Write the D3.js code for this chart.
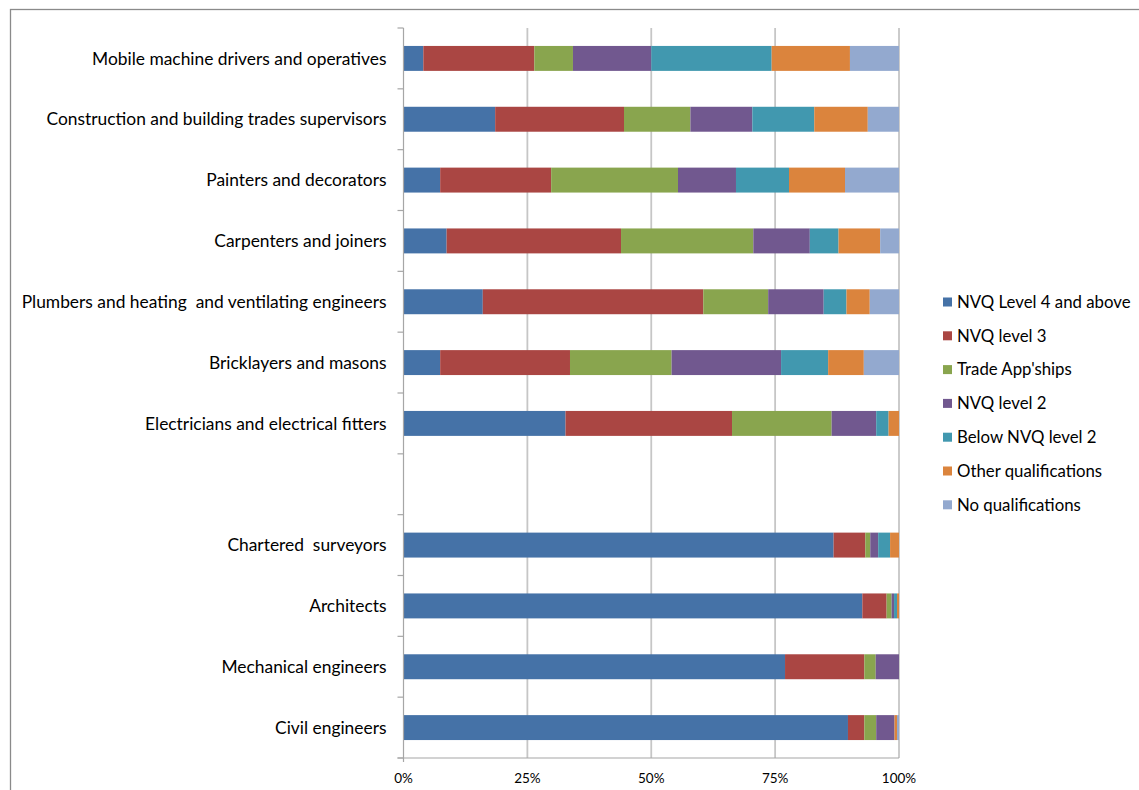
<!DOCTYPE html>
<html>
<head>
<meta charset="utf-8">
<script src="https://cdn.jsdelivr.net/npm/d3@7"></script>
<style>
html,body{margin:0;padding:0;background:#fff;}
svg{display:block;}
text{font-family:Lato,"Open Sans",sans-serif;fill:#000;white-space:pre;}
</style>
</head>
<body>
<svg id="chart" width="1139" height="790"></svg>
<script>
// Categories, top to bottom ("" = empty spacer row)
const categories = [
  "Mobile machine drivers and operatives",
  "Construction and building trades supervisors",
  "Painters and decorators",
  "Carpenters and joiners",
  "Plumbers and heating  and ventilating engineers",
  "Bricklayers and masons",
  "Electricians and electrical fitters",
  "",
  "Chartered  surveyors",
  "Architects",
  "Mechanical engineers",
  "Civil engineers"
];
const seriesNames = ["NVQ Level 4 and above","NVQ level 3","Trade App'ships","NVQ level 2","Below NVQ level 2","Other qualifications","No qualifications"];
const seriesColors = ["#4572A7","#AA4643","#89A54E","#71588F","#4198AF","#DB843D","#93A9CF"];

// Percent values per series, in category order above
const nvq4      = [4.0, 18.5, 7.4, 8.7, 16.0, 7.4, 32.7, 0, 86.8, 92.6, 77.0, 89.7];
const nvq3      = [22.4, 26.0, 22.4, 35.2, 44.5, 26.2, 33.6, 0, 6.4, 4.9, 16.0, 3.3];
const tradeApp  = [7.8, 13.4, 25.6, 26.7, 13.1, 20.5, 20.1, 0, 1.0, 1.0, 2.3, 2.4];
const nvq2      = [15.8, 12.5, 11.7, 11.4, 11.2, 22.1, 9.0, 0, 1.6, 0.5, 4.7, 3.7];
const belowNvq2 = [24.3, 12.5, 10.7, 5.8, 4.6, 9.5, 2.5, 0, 2.4, 0.6, 0, 0];
const otherQual = [15.8, 10.8, 11.3, 8.4, 4.7, 7.2, 2.1, 0, 1.8, 0.4, 0, 0.5];
const noQual    = [9.9, 6.3, 10.9, 3.8, 5.9, 7.1, 0, 0, 0, 0, 0, 0.4];
const xTicks = [0, 25, 50, 75, 100];
const xTickLabels = ["0%","25%","50%","75%","100%"];

const seriesValues = [nvq4, nvq3, tradeApp, nvq2, belowNvq2, otherQual, noQual];
const rows = categories.map((c, i) => {
  const r = {cat: c, key: "row" + i};
  seriesNames.forEach((s, j) => r[s] = seriesValues[j][i]);
  return r;
});
const stack = d3.stack().keys(seriesNames).offset(d3.stackOffsetExpand);
const stacked = stack(rows.map(r => {
  const tot = d3.sum(seriesNames, s => r[s]);
  if (tot === 0) { const o = {...r}; seriesNames.forEach(s => o[s] = 0); o.empty = true; return o; }
  return r;
}));

const svg = d3.select("#chart");
const L = 403.5, R = 899, T = 28, B = 758;

// outer frame
svg.append("rect").attr("x", 10.5).attr("y", 9.5).attr("width", 1200).attr("height", 900)
  .attr("fill", "none").attr("stroke", "#8a8a8a").attr("stroke-width", 1.3);

const x = d3.scaleLinear().domain([0, 1]).range([L, R]);
const y = d3.scaleBand().domain(rows.map(r => r.key)).range([T, B]).paddingInner(0.59).paddingOuter(0.295);
const step = y.step();

// gridlines
svg.append("g").selectAll("line").data(xTicks.filter(t => t > 0)).join("line")
  .attr("x1", d => x(d / 100)).attr("x2", d => x(d / 100))
  .attr("y1", T).attr("y2", B)
  .attr("stroke", "#c6c6c6").attr("stroke-width", 1.8);

// bars
svg.append("g").selectAll("g").data(stacked).join("g")
  .attr("fill", (d, i) => seriesColors[i])
  .selectAll("rect").data(d => d.filter(p => !p.data.empty)).join("rect")
  .attr("x", d => x(d[0]))
  .attr("width", d => Math.max(0, x(d[1]) - x(d[0])))
  .attr("y", d => y(d.data.key))
  .attr("height", y.bandwidth());

// left axis line and ticks at band boundaries
const axisColor = "#a6a6a6";
svg.append("line").attr("x1", L).attr("x2", L).attr("y1", T).attr("y2", B + 4)
  .attr("stroke", axisColor).attr("stroke-width", 1.2);
svg.append("g").selectAll("line").data(d3.range(categories.length + 1)).join("line")
  .attr("x1", L - 6).attr("x2", L).attr("y1", i => T + i * step).attr("y2", i => T + i * step)
  .attr("stroke", axisColor).attr("stroke-width", 1.2);

// bottom axis
svg.append("line").attr("x1", L - 6).attr("x2", R).attr("y1", B).attr("y2", B)
  .attr("stroke", axisColor).attr("stroke-width", 1.2);
svg.append("g").selectAll("text").data(xTicks).join("text")
  .attr("x", d => x(d / 100)).attr("y", B + 25)
  .attr("text-anchor", "middle").attr("font-size", 13.5)
  .text((d, i) => xTickLabels[i]);

// category labels
svg.append("g").selectAll("text").data(rows).join("text")
  .attr("x", L - 17).attr("y", d => y(d.key) + y.bandwidth() / 2)
  .attr("dy", "0.35em").attr("text-anchor", "end").attr("font-size", 17.4)
  .text(d => d.cat);

// legend
const lg = svg.append("g").selectAll("g").data(seriesNames).join("g")
  .attr("transform", (d, i) => `translate(943,${302 + i * 33.8})`);
lg.append("rect").attr("x", 0).attr("y", -4.5).attr("width", 9).attr("height", 9)
  .attr("fill", (d, i) => seriesColors[i]);
lg.append("text").attr("x", 14).attr("dy", "0.35em").attr("font-size", 16.8).text(d => d);
</script>
</body>
</html>
